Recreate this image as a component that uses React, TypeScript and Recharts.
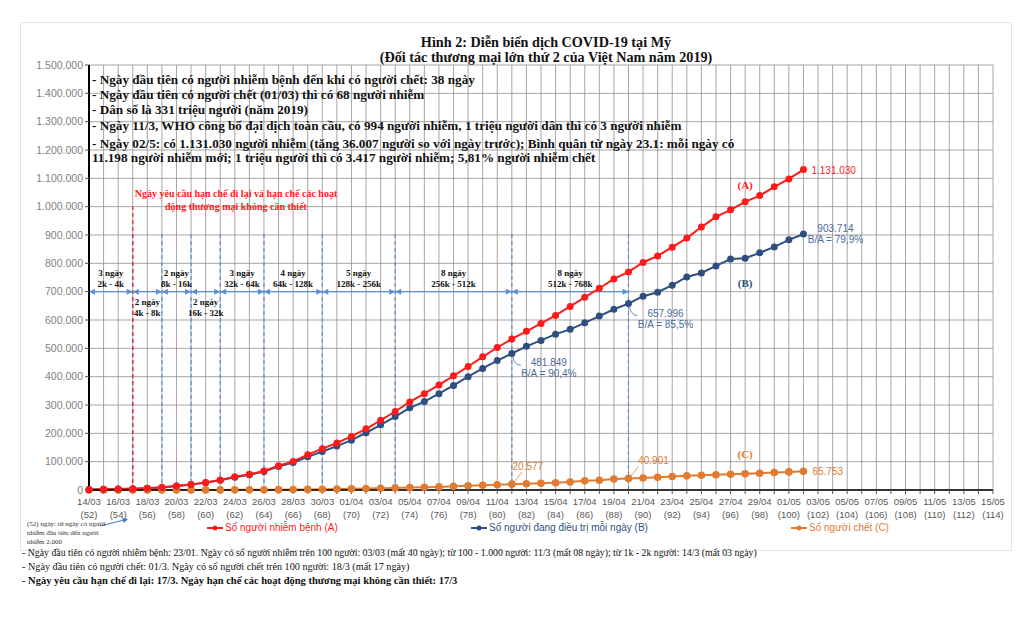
import React from "react";
import {
  LineChart,
  Line,
  XAxis,
  YAxis,
  CartesianGrid,
  ReferenceLine,
  ReferenceDot,
  Legend,
  LabelList,
} from "recharts";

const dates = [
  "14/03", "15/03", "16/03", "17/03", "18/03", "19/03", "20/03", "21/03", "22/03", "23/03",
  "24/03", "25/03", "26/03", "27/03", "28/03", "29/03", "30/03", "31/03",
  "01/04", "02/04", "03/04", "04/04", "05/04", "06/04", "07/04", "08/04", "09/04", "10/04",
  "11/04", "12/04", "13/04", "14/04", "15/04", "16/04", "17/04", "18/04", "19/04", "20/04",
  "21/04", "22/04", "23/04", "24/04", "25/04", "26/04", "27/04", "28/04", "29/04", "30/04",
  "01/05", "02/05", "03/05", "04/05", "05/05", "06/05", "07/05", "08/05", "09/05", "10/05",
  "11/05", "12/05", "13/05", "14/05", "15/05",
];
// ngày thứ (tính từ ngày có người nhiễm đầu tiên) của 14/03
const firstDayNo = 52;

// (A) Số người nhiễm bệnh
const infected = [
  2200, 2900, 3800, 4700, 6500, 9400, 14300, 19600, 26700, 35200,
  46400, 55200, 67000, 86000, 101000, 124700, 146000, 166000, 189000, 216000,
  246000, 277000, 311000, 340000, 371000, 403000, 436000, 470000, 503000, 533000,
  560000, 588000, 616000, 648000, 680000, 712000, 745000, 769600, 803000, 826000,
  857000, 889000, 928000, 964000, 989000, 1017000, 1039000, 1070000, 1098000, 1131030,
];
// (B) Số người đang điều trị mỗi ngày
const treating = [
  2100, 2800, 3600, 4500, 6300, 9100, 13900, 19000, 26000, 34200,
  45000, 53500, 65000, 83000, 97000, 117000, 136000, 155000, 176000, 202000,
  230000, 259000, 290000, 312000, 340000, 369000, 400000, 429000, 457000, 481849,
  507000, 528000, 550000, 567000, 590000, 614000, 638000, 657996, 684000, 698000,
  723000, 752000, 766000, 791000, 815000, 818000, 837000, 858000, 883000, 903714,
];
// (C) Số người chết
const deaths = [
  50, 60, 70, 90, 110, 150, 210, 260, 340, 420,
  560, 700, 940, 1200, 1580, 2200, 2600, 3100, 4000, 5100,
  6100, 7400, 8500, 9600, 10900, 12900, 14800, 16700, 18700, 20577,
  22100, 23600, 25800, 28400, 32400, 34600, 38700, 40901, 42500, 45100,
  47600, 50000, 52200, 54000, 55400, 57000, 59300, 61700, 63900, 65753,
];

const yTicks = [
  0, 100000, 200000, 300000, 400000, 500000, 600000, 700000,
  800000, 900000, 1000000, 1100000, 1200000, 1300000, 1400000, 1500000,
];

// các giai đoạn tăng gấp đôi
const stageBounds = [0, 3, 5, 7, 9, 12, 16, 21, 29, 37];
const stageDays = ["3 ngày", "2 ngày", "2 ngày", "2 ngày", "3 ngày", "4 ngày", "5 ngày", "8 ngày", "8 ngày"];
const stageRange = ["2k - 4k", "4k - 8k", "8k - 16k", "16k - 32k", "32k - 64k", "64k - 128k", "128k - 256k", "256k - 512k", "512k - 768k"];
const stageBelow = [false, true, false, true, false, false, false, false, false];
const stageLevel = 700000;
const restrictionDay = 3; // 17/03
const noteDays = [29, 37, 49];

const infoLines = [
  "- Ngày đầu tiên có người nhiễm bệnh đến khi có người chết: 38 ngày",
  "- Ngày đầu tiên có người chết (01/03) thì có 68 người nhiễm",
  "- Dân số là 331 triệu người (năm 2019)",
  "- Ngày 11/3, WHO công bố đại dịch toàn cầu, có 994 người nhiễm, 1 triệu người dân thì có 3 người nhiễm",
  "- Ngày 02/5: có 1.131.030 người nhiễm (tăng 36.007 người so với ngày trước); Bình quân từ ngày 23.1: mỗi ngày có",
  "11.198 người nhiễm mới; 1 triệu người thì có 3.417 người nhiễm; 5,81% người nhiễm chết",
];

const data = dates.map((d, i) => ({
  i,
  date: d,
  A: infected[i],
  B: treating[i],
  C: deaths[i],
}));

const RED = "#ff1a1a";
const BLUE = "#2f4f80";
const ORANGE = "#e07b30";
const DASH_BLUE = "#5b8fd0";
const LABEL_BLUE = "#4a6b9c";
const SERIF = "'Liberation Serif', 'Times New Roman', serif";
const SANS = "'Liberation Sans', Arial, sans-serif";

const fmt = (v: number) => String(v).replace(/\B(?=(\d{3})+(?!\d))/g, ".");

function DateTick(props: any) {
  const { x, y, payload } = props;
  const i = payload.value;
  if (i % 2 !== 0) return null;
  return (
    <g fill="#595959" fontFamily={SANS} fontSize={9.5}>
      <text x={x} y={y + 9} textAnchor="middle">{dates[i]}</text>
      <text x={x} y={y + 22} textAnchor="middle">({firstDayNo + i})</text>
    </g>
  );
}

function ArrowMark(props: any) {
  const { cx, cy, payload } = props;
  const idx = payload?.idx;
  const first = idx === stageBounds[0];
  const last = idx === stageBounds[stageBounds.length - 1];
  return (
    <g fill={DASH_BLUE}>
      {!first && <path d={`M${cx} ${cy} L${cx - 6} ${cy - 3} L${cx - 6} ${cy + 3} Z`} />}
      {!last && <path d={`M${cx} ${cy} L${cx + 6} ${cy - 3} L${cx + 6} ${cy + 3} Z`} />}
    </g>
  );
}

function StageText(props: any) {
  const { cx, cy, payload } = props;
  const k = payload.k;
  const y0 = stageBelow[k] ? cy + 13 : cy - 16;
  return (
    <g fontFamily={SERIF} fontWeight="bold" fontSize={9} fill="#111">
      <text x={cx} y={y0} textAnchor="middle">{stageDays[k]}</text>
      <text x={cx} y={y0 + 11} textAnchor="middle">{stageRange[k]}</text>
    </g>
  );
}

function ALabel(props: any) {
  const { x, y, index } = props;
  if (index !== 49) return null;
  return (
    <text x={x + 8} y={y + 4} fill={RED} fontFamily={SANS} fontSize={10}>
      {fmt(infected[index])}
    </text>
  );
}

function BLabel(props: any) {
  const { x, y, index } = props;
  if (!noteDays.includes(index)) return null;
  const ratio = ((treating[index] / infected[index]) * 100).toFixed(1).replace(".", ",");
  const last = index === 49;
  const dx = last ? 32 : 37;
  const dy = last ? -2 : 13;
  return (
    <g fill={LABEL_BLUE} fontFamily={SANS} fontSize={10} textAnchor="middle">
      {!last && (
        <path d={`M${x + 1} ${y + 3} Q${x + 2} ${y + 11} ${x + 9} ${y + 12}`} stroke={LABEL_BLUE} fill="none" strokeWidth={0.8} />
      )}
      <text x={x + dx} y={y + dy}>{fmt(treating[index])}</text>
      <text x={x + dx} y={y + dy + 11}>B/A = {ratio}%</text>
    </g>
  );
}

function CLabel(props: any) {
  const { x, y, index } = props;
  if (!noteDays.includes(index)) return null;
  if (index === 49) {
    return (
      <text x={x + 9} y={y + 4} fill={ORANGE} fontFamily={SANS} fontSize={10}>
        {fmt(deaths[index])}
      </text>
    );
  }
  const dx = index === 29 ? 16 : 25;
  return (
    <g fill={ORANGE} fontFamily={SANS} fontSize={10}>
      <path d={`M${x} ${y} Q${x + 6} ${y - 6} ${x + 10} ${y - 12}`} stroke={ORANGE} fill="none" strokeWidth={0.8} />
      <text x={x + dx} y={y - 14} textAnchor="middle">{fmt(deaths[index])}</text>
    </g>
  );
}

const legendOrder = ["A", "B", "C"];
const legendLefts = [206, 470, 790];

function LegendBox(props: any) {
  const items = [...(props.payload || [])].sort(
    (a: any, b: any) => legendOrder.indexOf(a.dataKey) - legendOrder.indexOf(b.dataKey)
  );
  return (
    <div style={{ position: "relative", width: 1024, height: 16 }}>
      {items.map((it: any, k: number) => (
        <div
          key={it.value}
          style={{
            position: "absolute",
            left: legendLefts[k],
            top: 0,
            display: "flex",
            alignItems: "center",
            fontFamily: SANS,
            fontSize: 10,
            color: it.color,
            whiteSpace: "nowrap",
          }}
        >
          <svg width={18} height={10}>
            <line x1={1} y1={5} x2={17} y2={5} stroke={it.color} strokeWidth={2} />
            <circle cx={9} cy={5} r={2.5} fill={it.color} />
          </svg>
          <span style={{ marginLeft: 1 }}>{it.value}</span>
        </div>
      ))}
    </div>
  );
}

export default function App() {
  const arrowDots = stageBounds.map((b) => ({ idx: b }));
  return (
    <div style={{ position: "absolute", left: 0, top: 0, width: 1024, height: 619, background: "#fff", overflow: "hidden" }}>
      <div style={{ position: "absolute", left: 20, top: 22, width: 990, height: 527, border: "1px solid #e4e4e4" }} />
      <div
        style={{
          position: "absolute",
          left: 0,
          top: 35,
          width: 1092,
          textAlign: "center",
          fontFamily: SERIF,
          fontWeight: "bold",
          fontSize: 14.2,
          lineHeight: "15px",
          color: "#111",
        }}
      >
        <div>Hình 2: Diễn biến dịch COVID-19 tại Mỹ</div>
        <div>(Đối tác thương mại lớn thứ 2 của Việt Nam năm 2019)</div>
      </div>

      <div style={{ position: "absolute", left: 0, top: 0 }}>
        <LineChart width={1024} height={619} data={data} margin={{ top: 65, right: 31, bottom: 99, left: 29 }}>
          <CartesianGrid stroke="#8f8f8f" strokeWidth={0.8} />
          <XAxis
            dataKey="i"
            type="number"
            domain={[0, 62]}
            ticks={dates.map((_, i) => i)}
            interval={0}
            tick={<DateTick />}
            tickSize={4}
            tickMargin={2}
            height={30}
            axisLine={{ stroke: "#000", strokeWidth: 1.5 }}
            tickLine={{ stroke: "#555" }}
          />
          <YAxis
            domain={[0, 1500000]}
            ticks={yTicks}
            interval={0}
            width={60}
            tickFormatter={fmt}
            tickSize={4}
            tick={{ fill: "#7f7f7f", fontFamily: SANS, fontSize: 10.5 }}
            axisLine={{ stroke: "#000", strokeWidth: 2 }}
            tickLine={{ stroke: "#555" }}
          />

          {stageBounds.slice(1).map((b) => (
            <ReferenceLine
              key={"v" + b}
              segment={[{ x: b, y: 0 }, { x: b, y: 910000 }]}
              stroke={DASH_BLUE}
              strokeDasharray="4 3"
              strokeWidth={1.2}
            />
          ))}
          <ReferenceLine
            segment={[{ x: restrictionDay, y: 0 }, { x: restrictionDay, y: 1000000 }]}
            stroke={RED}
            strokeDasharray="4 3"
            strokeWidth={1.2}
          />
          <ReferenceLine
            segment={[{ x: stageBounds[0], y: stageLevel }, { x: stageBounds[stageBounds.length - 1], y: stageLevel }]}
            stroke={DASH_BLUE}
            strokeWidth={1.2}
          />
          {arrowDots.map((d) => (
            <ReferenceDot key={"a" + d.idx} x={d.idx} y={stageLevel} r={0} shape={(p: any) => <ArrowMark {...p} payload={d} />} />
          ))}
          {stageDays.map((_, k) => (
            <ReferenceDot
              key={"s" + k}
              x={(stageBounds[k] + stageBounds[k + 1]) / 2}
              y={stageLevel}
              r={0}
              shape={(p: any) => <StageText {...p} payload={{ k }} />}
            />
          ))}

          <ReferenceDot x={45} y={1075000} r={0} label={{ value: "(A)", position: "center", fill: RED, fontFamily: SERIF, fontWeight: "bold", fontSize: 11 }} />
          <ReferenceDot x={45} y={730000} r={0} label={{ value: "(B)", position: "center", fill: BLUE, fontFamily: SERIF, fontWeight: "bold", fontSize: 11 }} />
          <ReferenceDot x={45} y={127000} r={0} label={{ value: "(C)", position: "center", fill: ORANGE, fontFamily: SERIF, fontWeight: "bold", fontSize: 11 }} />

          <Line
            dataKey="C"
            name="Số người chết (C)"
            stroke={ORANGE}
            strokeWidth={2}
            dot={{ r: 2.8, fill: ORANGE, stroke: ORANGE }}
            activeDot={false}
            isAnimationActive={false}
          >
            <LabelList dataKey="C" content={<CLabel />} />
          </Line>
          <Line
            dataKey="B"
            name="Số người đang điều trị mỗi ngày (B)"
            stroke={BLUE}
            strokeWidth={2}
            dot={{ r: 2.5, fill: BLUE, stroke: BLUE }}
            activeDot={false}
            isAnimationActive={false}
          >
            <LabelList dataKey="B" content={<BLabel />} />
          </Line>
          <Line
            dataKey="A"
            name="Số người nhiễm bệnh (A)"
            stroke={RED}
            strokeWidth={2}
            dot={{ r: 2.5, fill: RED, stroke: RED }}
            activeDot={false}
            isAnimationActive={false}
          >
            <LabelList dataKey="A" content={<ALabel />} />
          </Line>

          <Legend
            verticalAlign="middle"
            layout="horizontal"
            content={(p: any) => <LegendBox payload={p.payload} />}
            wrapperStyle={{ top: 522, left: 0, width: 1024 }}
          />
        </LineChart>
      </div>

      {infoLines.map((t, k) => (
        <div
          key={k}
          style={{
            position: "absolute",
            left: 92,
            top: [72, 87, 102, 118, 136, 150][k],
            fontFamily: SERIF,
            fontWeight: "bold",
            fontSize: 13.2,
            lineHeight: "15px",
            color: "#111",
            whiteSpace: "nowrap",
          }}
        >
          {t}
        </div>
      ))}

      <div
        style={{
          position: "absolute",
          left: 116,
          top: 187,
          width: 240,
          textAlign: "center",
          fontFamily: SERIF,
          fontWeight: "bold",
          fontSize: 10,
          lineHeight: "13px",
          color: RED,
        }}
      >
        <div style={{ whiteSpace: "nowrap" }}>Ngày yêu cầu hạn chế đi lại và hạn chế các hoạt</div>
        <div>động thương mại không cần thiết</div>
      </div>

      <svg style={{ position: "absolute", left: 98, top: 516 }} width={34} height={12}>
        <line x1={2} y1={10} x2={26} y2={4} stroke="#4472c4" strokeWidth={1} />
        <path d="M30 3 L24 2 L26 7 Z" fill="#4472c4" />
      </svg>
      <div
        style={{
          position: "absolute",
          left: 27,
          top: 520,
          fontFamily: SERIF,
          fontSize: 7,
          lineHeight: "9px",
          color: "#333",
        }}
      >
        <div>(52) ngày: từ ngày có người</div>
        <div>nhiễm đầu tiên đến người</div>
        <div>nhiễm 2.000</div>
      </div>

      <div
        style={{
          position: "absolute",
          left: 22,
          top: 546,
          fontFamily: SERIF,
          lineHeight: "14px",
          color: "#111",
          whiteSpace: "nowrap",
        }}
      >
        <div style={{ fontSize: 9.8 }}>- Ngày đầu tiên có người nhiễm bệnh: 23/01. Ngày có số người nhiễm trên 100 người: 03/03 (mất 40 ngày); từ 100 - 1.000 người: 11/3 (mất 08 ngày); từ 1k - 2k người: 14/3 (mất 03 ngày)</div>
        <div style={{ fontSize: 10.2 }}>- Ngày đầu tiên có người chết: 01/3. Ngày có số người chết trên 100 người: 18/3 (mất 17 ngày)</div>
        <div style={{ fontSize: 10.5, fontWeight: "bold" }}>- Ngày yêu cầu hạn chế đi lại: 17/3. Ngày hạn chế các hoạt động thương mại không cần thiết: 17/3</div>
      </div>
    </div>
  );
}
